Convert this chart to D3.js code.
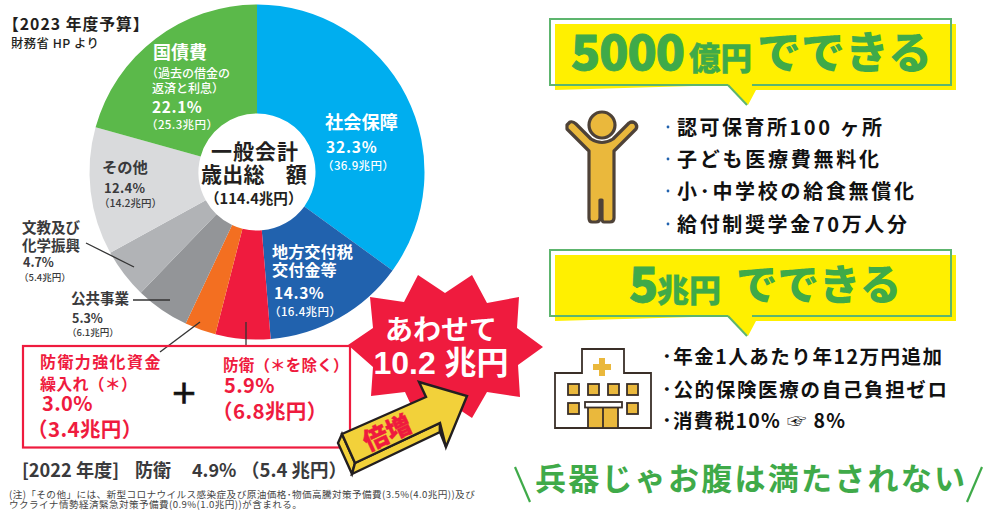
<!DOCTYPE html>
<html><head><meta charset="utf-8">
<script src="https://cdn.jsdelivr.net/npm/d3@7"></script>
<style>html,body{margin:0;padding:0;background:#fff}svg{display:block}
text{font-family:"Noto Sans CJK JP","Noto Sans",sans-serif}</style></head>
<body><svg id="c" width="991" height="512"></svg>
<script>
const categories=["社会保障","地方交付税交付金等","防衛（＊を除く）","防衛力強化資金繰入れ（＊）","公共事業","文教及び化学振興","その他","国債費"];
const printedShares=["32.3%","14.3%","5.9%","3.0%","5.3%","4.7%","12.4%","22.1%"];
const printedAmounts=["（36.9兆円）","（16.4兆円）","（6.8兆円）","（3.4兆円）","（6.1兆円）","（5.4兆円）","（14.2兆円）","（25.3兆円）"];
// slice sizes as drawn in the picture (measured angles, in percent of the circle)
const sliceShares=[35.0,13.7,5.3,3.0,5.2,4.8,12.3,20.7];
const sliceColors=["#00AEEF","#2162AE","#EF1B3E","#F36F21","#939598","#B1B3B6","#D9DADC","#5BB94A"];
const list5000=["認可保育所100 ヶ所","子ども医療費無料化","小･中学校の給食無償化","給付制奨学金70万人分"];
const list5cho=["･年金1人あたり年12万円追加","･公的保険医療の自己負担ゼロ","･消費税10% ☞ 8%"];
const footnoteLines=["(注)「その他」には、新型コロナウイルス感染症及び原油価格･物価高騰対策予備費(3.5%(4.0兆円))及び","ウクライナ情勢経済緊急対策予備費(0.9%(1.0兆円))が含まれる。"];

const svg=d3.select("#c");
const T=(x,y,s,size,fill,weight=700,opt={})=>{
  const t=svg.append("text").attr("x",x).attr("y",y).text(s).attr("font-size",size).attr("fill",fill).attr("font-weight",weight);
  if(opt.ls!=null)t.attr("letter-spacing",opt.ls);
  if(opt.anchor)t.attr("text-anchor",opt.anchor);
  if(opt.rot)t.attr("transform",`rotate(${opt.rot} ${x} ${y})`);
  if(opt.len)t.attr("textLength",opt.len).attr("lengthAdjust","spacing");
  if(opt.sw)t.attr("stroke",fill).attr("stroke-width",opt.sw);
  if(opt.family)t.style("font-family",opt.family);
  return t;};
// one text element with several lines: [x,y,string,size,weight,letterSpacing]
const Block=(fill,lines)=>{
  const t=svg.append("text").attr("fill",fill);
  lines.forEach(l=>{t.append("tspan").attr("x",l[0]).attr("y",l[1]).text(l[2]).attr("font-size",l[3]).attr("font-weight",l[4]||700).attr("letter-spacing",l[5]||0);});
  return t;};
const L=(pts,stroke,w,fill="none",close=false)=>svg.append("path").attr("d",d3.line()(pts)+(close?"Z":"")).attr("stroke",stroke).attr("stroke-width",w).attr("fill",fill).attr("stroke-linejoin","miter");

// donut
const pie=d3.pie().sort(null).value(d=>d);
const arc=d3.arc().innerRadius(58.5).outerRadius(167.5);
const g=svg.append("g").attr("transform","translate(257,172)");
g.selectAll("path").data(pie(sliceShares)).join("path").attr("d",arc).attr("fill",(d,i)=>sliceColors[i]);

// header
Block("#231F20",[[3,30,"【2023 年度予算】",15.8,700,1],[11,48,"財務省 HP より",12.3,500,.5]]);

// center
Block("#231F20",[[211,159,"一般会計",21,700,1],[201,182,"歳出総　額",21,700,.2],[205,204,"（114.4兆円）",14.6,700,0]]);

// slice labels
const W="#fff",K="#3a3a3c";
Block(W,[[153,59,categories[7],18,700],[146,78,"（過去の借金の",12,500],[152,93,"返済と利息）",12,500],[152,113,printedShares[7],15.5,700,.6],[146,129,printedAmounts[7],11.5,500,.4]]);
Block(W,[[325,129,categories[0],18.2,700],[326,153,printedShares[0],15.5,700,.8],[322,170,printedAmounts[0],11.5,500,.4]]);
Block(W,[[272,258,"地方交付税",16.2,700],[272,276,"交付金等",16.2,700],[274,299,printedShares[1],15.5,700,.6],[269,316,printedAmounts[1],11.5,500,.4]]);
Block(K,[[102,173,categories[6],15.3,700],[104,193,printedShares[6],13,700,.3],[99,207,printedAmounts[6],10.5,500]]);
Block(K,[[22,233,"文教及び",14.5,700],[22,251,"化学振興",14.5,700],[23,267,printedShares[5],12.5,700],[19,281,printedAmounts[5],9.5,500]]);
Block(K,[[71,304,categories[4],14.5,700],[72,323,printedShares[4],12.5,700],[67,336,printedAmounts[4],9.5,500]]);
L([[86,243],[134,267]],"#333",1.3);
L([[133,300],[170,300]],"#333",1.3);
L([[200,322],[160,352]],"#333",1.3);
L([[246,322],[246,346]],"#333",1.3);

// burst outline
L([[418,275],[445,293],[472,275],[487,303],[519,297],[517,328],[543,347],[518,365],[520,397],[487,392],[472,418],[445,400],[418,420],[405,392],[371,396],[373,367],[348,345],[373,328],[370,297],[404,302]],"none",0,"#EF1B3E",true);

// red box
svg.append("rect").attr("x",23).attr("y",346).attr("width",327).attr("height",101.5).attr("fill","none").attr("stroke","#EF1B3E").attr("stroke-width",2.2);
const R="#EF1B3E";
Block(R,[[40,368,"防衛力強化資金",16,700,1.4],[40,390,"繰入れ（＊）",16,700,.2],[42,411,printedShares[3],20,700,.4],[27,437,printedAmounts[3],20.5,700,.4]]);
Block(R,[[223,371,"防衛（＊を除く）",15.5,700,.2],[224,393,printedShares[2],20,700,.4],[212,419,printedAmounts[2],20.5,700,.4]]);
T(184,404,"＋",28,"#111",700,{anchor:"middle",sw:.6});

T(441,340,"あわせて",28,W,700,{anchor:"middle"});
T(441,374,"10.2 兆円",32,W,700,{anchor:"middle",family:'"Liberation Sans","Noto Sans CJK JP",sans-serif'});

// arrow
const A="#F2D13A",AK="#231F20";
L([[342,434],[338,443],[352,474],[355,463]],AK,2.4,A,true);
L([[352,474],[440,432],[440,423],[355,463]],AK,2.4,A,true);
L([[440,423],[440,432],[446,447]],AK,2.4,A,true);
L([[342,434],[426,397],[419,382],[467,396],[446,447],[440,423],[355,463]],AK,2.4,A,true);
T(391,441,"倍増",25,R,900,{anchor:"middle",rot:-25,sw:.4});

const K3="#3a3a3c";
T(22,477,"[2022 年度]",18.2,K3,700);
T(135,477,"防衛",18,K3,700);
T(192,477,"4.9%",18,K3,700);
T(241,477,"（5.4 兆円）",18.5,K3,700);
const fn=Block("#444",[[9,498,footnoteLines[0],9.6,400,.42],[9,508,footnoteLines[1],9.6,400,.42]]);

// callouts
function callout(x,y,w,h,tx,tip){
  L([[x+5,y+5],[x+w+5,y+5],[x+w+5,y+h+5],[tx+6,y+h+5],[tip,y+h+20],[tx-22,y+h],[x+5,y+h+5]],"none",0,"#FFF000",true);
  L([[tx-22,y+h],[x,y+h],[x,y],[x+w,y],[x+w,y+h],[tx+2,y+h]],"#5DB56E",2);
  L([[tx-22,y+h],[tip-1,y+h+20]],"#5DB56E",2);
}
const G="#3FAA49";
callout(550,19,401,66,750,748);
T(571,70,"5000",48,G,900,{len:114,sw:.9});
T(689,70,"億円",31.5,G,900,{sw:.4});
T(757,69,"でできる",44,G,900);
callout(550,250,401,66,750,748);
T(629,302,"5",48,G,900,{sw:.8});
T(657,302,"兆円",32,G,900,{sw:.4});
T(736,300,"でできる",41.5,G,900);

// person icon
const Y="#EAB83C",B="#4E4238";
svg.append("path").attr("d","M567,125 L570,122 Q573,121 576,124 L591,139 Q602,146 613,139 L629,123 Q632,121 635,123 Q638,126 636,129 L614,151 L614,218 Q614,222 610,222 L604,222 Q602,222 602,218 L602,200 L600,200 L600,218 Q600,222 596,222 L592,222 Q589,222 589,218 L589,151 L567,129 Z").attr("fill",Y).attr("stroke",B).attr("stroke-width",3.2).attr("stroke-linejoin","round");
svg.append("circle").attr("cx",602).attr("cy",125).attr("r",13).attr("fill",Y).attr("stroke",B).attr("stroke-width",3.2);

// lists
const len5000=[205,202,237,230];
list5000.forEach((s,i)=>{
  const y=[135,167,199,232][i];
  svg.append("circle").attr("cx",668).attr("cy",y-8).attr("r",1.4).attr("fill","#2162AE");
  T(677,y,s,20,"#111",700,{len:len5000[i]});
});
const len5cho=[280,285,183];
list5cho.forEach((s,i)=>{
  T(662,[364,397,428][i],s,19.5,"#111",700,{len:len5cho[i]});
});

// hospital
const K2="#3a2f28";
svg.append("path").attr("d","M555,428 V373 H582 V349 H624 V373 H651 V428 Z").attr("fill","#fff").attr("stroke",K2).attr("stroke-width",1.8);
svg.append("path").attr("d","M599,358 h6 v6 h6 v6 h-6 v6 h-6 v-6 h-6 v-6 h6 Z").attr("fill",Y);
[[568,384],[588,384],[608,384],[627,384],[568,403],[627,403]].forEach(p=>svg.append("rect").attr("x",p[0]).attr("y",p[1]).attr("width",11).attr("height",11).attr("fill",Y).attr("stroke",K2).attr("stroke-width",1.8));
svg.append("rect").attr("x",588).attr("y",405).attr("width",30).attr("height",23).attr("fill",Y).attr("stroke",K2).attr("stroke-width",1.8);
svg.append("line").attr("x1",603).attr("x2",603).attr("y1",405).attr("y2",428).attr("stroke",K2).attr("stroke-width",1.8);
svg.append("rect").attr("x",585).attr("y",402).attr("width",37).attr("height",5.5).attr("fill","#fff").attr("stroke",K2).attr("stroke-width",1.8);

// slogan
T(535,490,"兵器じゃお腹は満たされない",31,G,700,{len:430});
L([[515,467],[530,502]],G,2.2);
L([[982,467],[967,502]],G,2.2);
</script></body></html>
